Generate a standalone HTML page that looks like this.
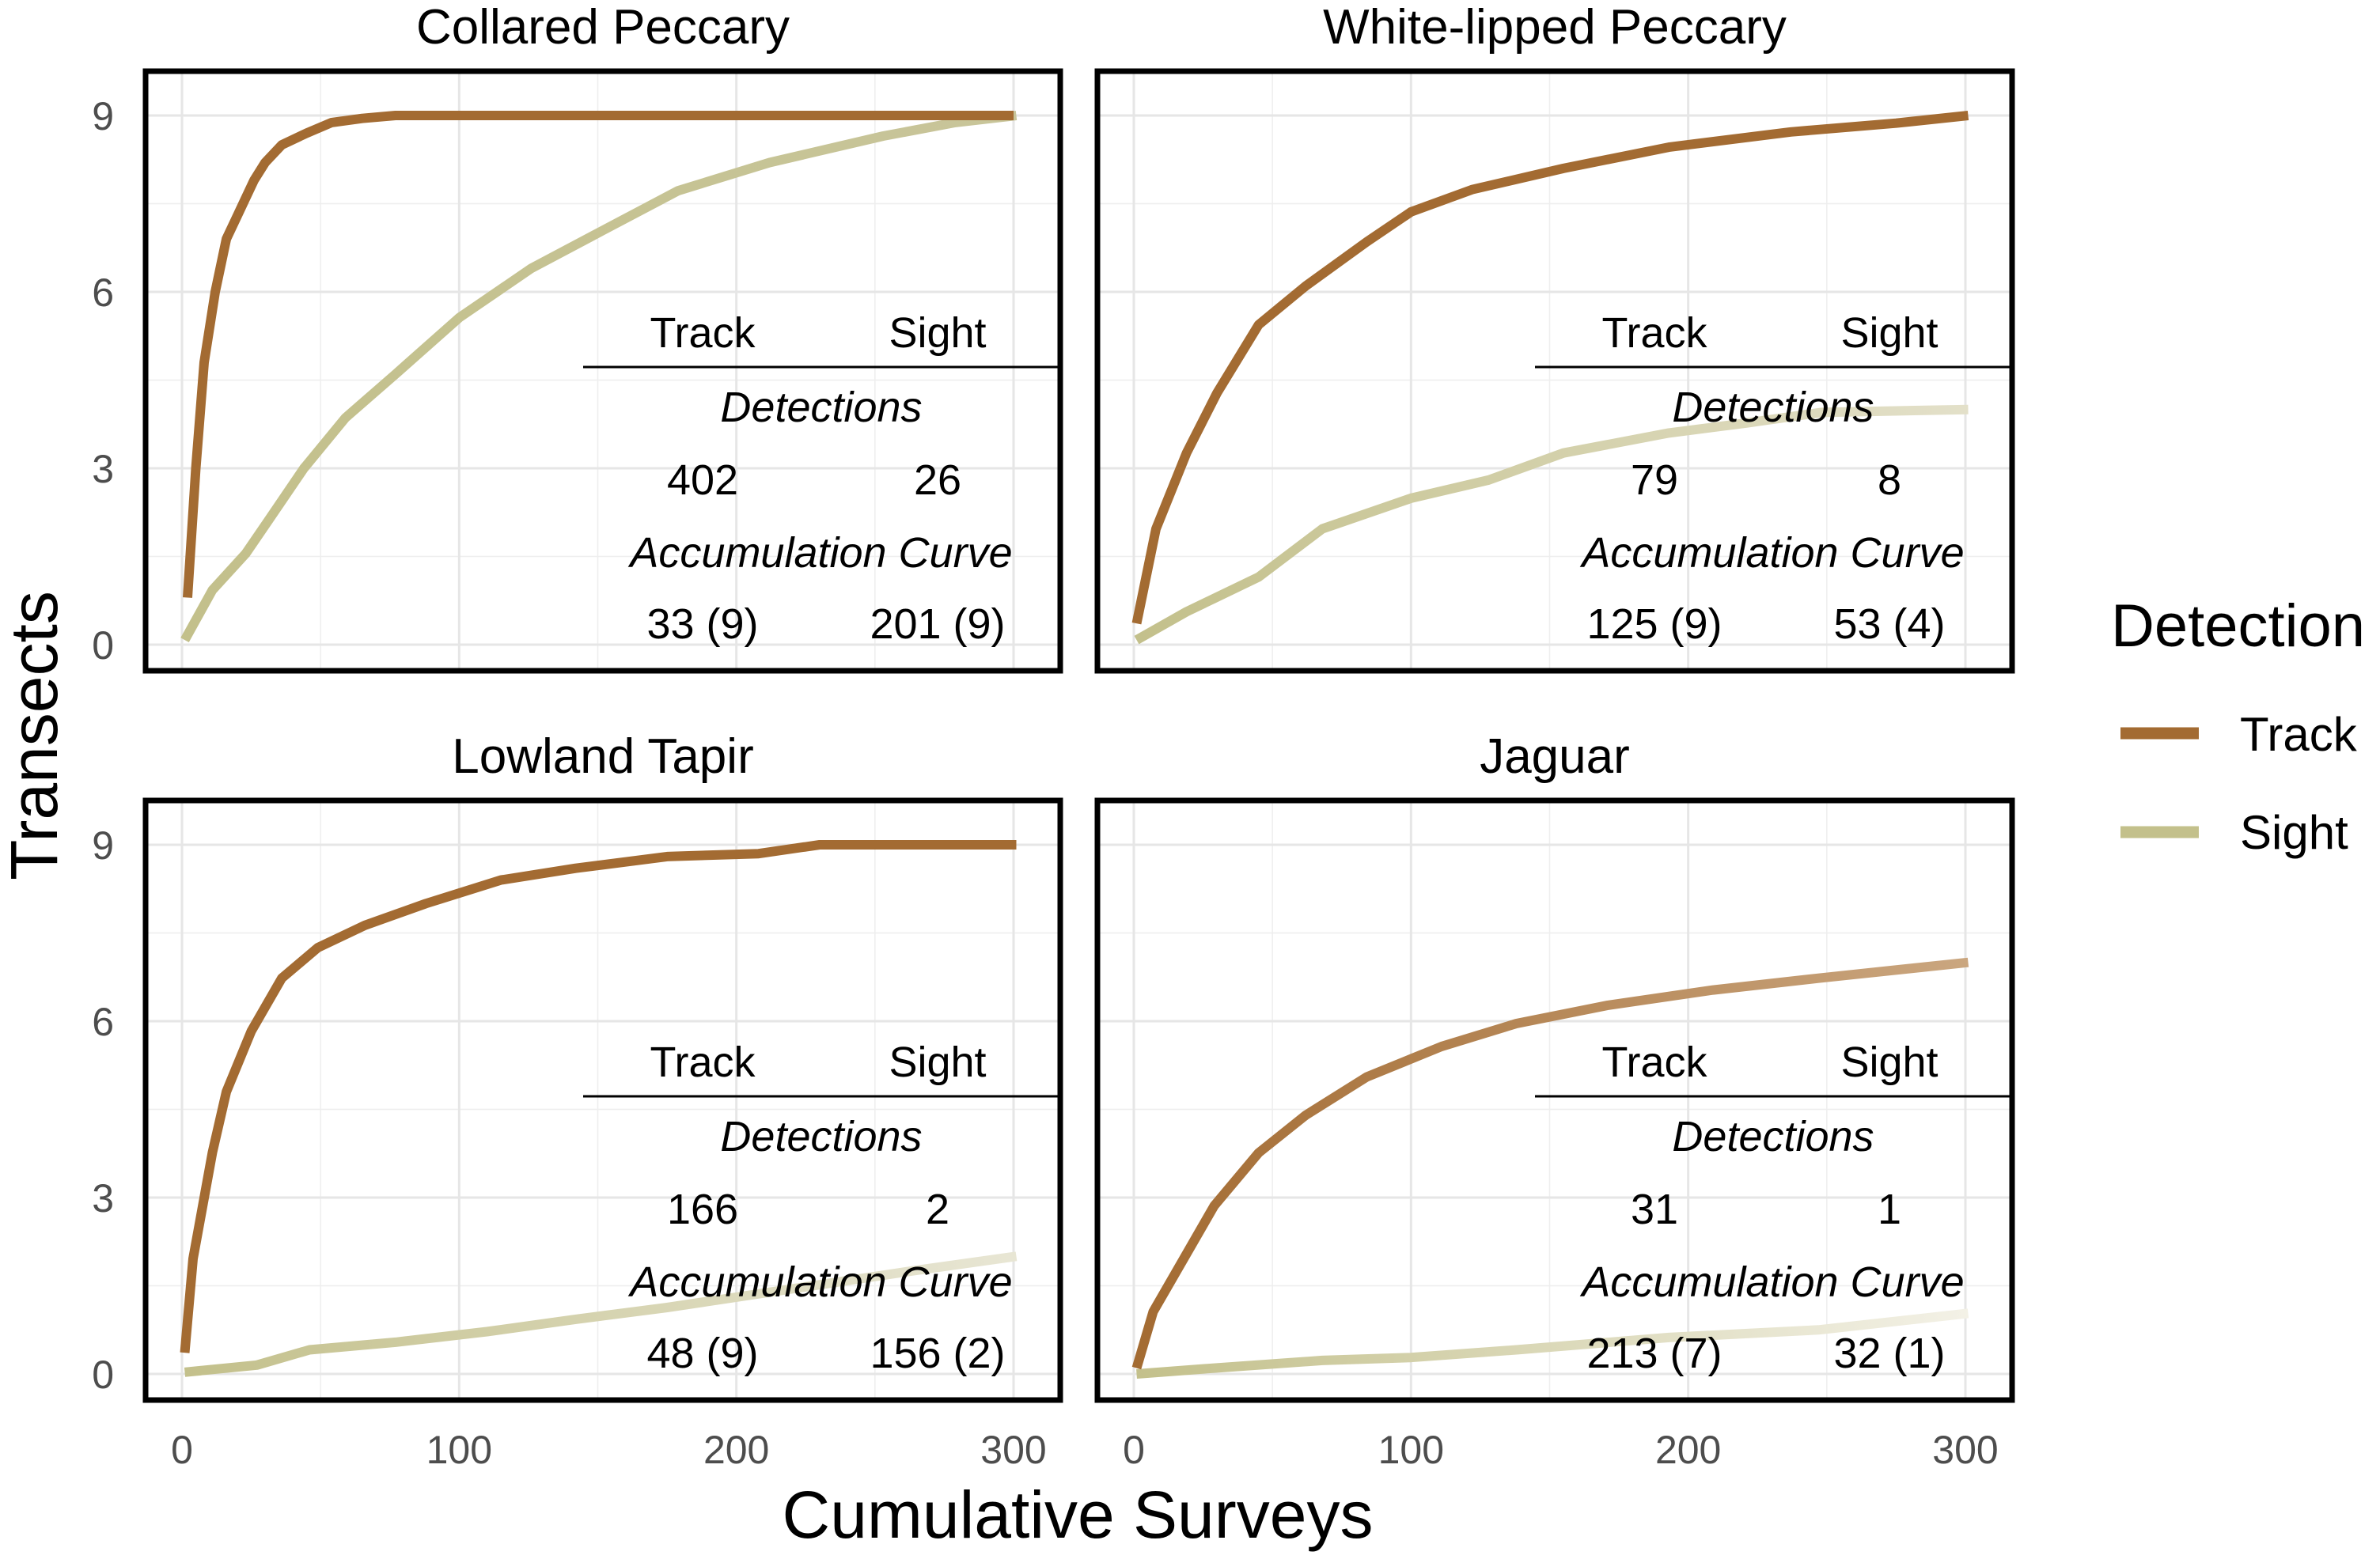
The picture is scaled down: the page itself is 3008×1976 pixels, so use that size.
<!DOCTYPE html>
<html><head><meta charset="utf-8"><style>
html,body{margin:0;padding:0;background:#fff;}
svg{display:block;font-family:"Liberation Sans",Arial,sans-serif;}
</style></head><body>
<svg id="chart" width="3008" height="1976" viewBox="0 0 3008 1976" xmlns="http://www.w3.org/2000/svg">
<defs id="defs"></defs>
<g id="root"></g>
</svg>
<script>
const NS='http://www.w3.org/2000/svg';
// data
const panelTitles=['Collared Peccary','White-lipped Peccary','Lowland Tapir','Jaguar'];
const xTicks=[0,100,200,300];
const yTicks=[0,3,6,9];
const trackX1=[2,5,8,12,16,20,26,30,36,45,54,65,77,300];
const trackY1=[0.8,3,4.8,6,6.9,7.3,7.9,8.2,8.5,8.7,8.88,8.95,9,9];
const sightX1=[1,11,23,31,44,59,77,100,126,148,179,212,253,279,301];
const sightY1=[0.08,0.93,1.55,2.1,3.0,3.86,4.6,5.56,6.4,6.95,7.72,8.2,8.65,8.88,9];
const trackX2=[1,8,19,30,45,62,84,100,122,155,193,237,275,301];
const trackY2=[0.36,1.97,3.26,4.28,5.44,6.1,6.85,7.36,7.74,8.1,8.46,8.72,8.87,9];
const sightX2=[1,19,45,68,100,128,155,193,221,248,301];
const sightY2=[0.08,0.56,1.15,1.97,2.49,2.8,3.26,3.6,3.77,3.95,4.0];
const trackX3=[1,4,11,16,25,36,49,66,88,115,142,175,208,230,301];
const trackY3=[0.36,1.96,3.77,4.8,5.83,6.73,7.25,7.63,8.0,8.4,8.6,8.8,8.85,9,9];
const sightX3=[1,27,46,77,110,142,175,219,263,301];
const sightY3=[0.03,0.15,0.41,0.54,0.72,0.93,1.13,1.44,1.75,2.0];
const trackX4=[1,7,18,29,45,62,84,111,138,171,209,247,301];
const trackY4=[0.1,1.06,1.96,2.86,3.76,4.4,5.05,5.57,5.96,6.27,6.53,6.73,7.0];
const sightX4=[1,29,68,100,138,193,247,301];
const sightY4=[0,0.1,0.23,0.28,0.41,0.62,0.75,1.03];
const detTrack=['402','79','166','31'];
const detSight=['26','8','2','1'];
const accTrack=['33 (9)','125 (9)','48 (9)','213 (7)'];
const accSight=['201 (9)','53 (4)','156 (2)','32 (1)'];

const trackXs=[trackX1,trackX2,trackX3,trackX4], trackYs=[trackY1,trackY2,trackY3,trackY4];
const sightXs=[sightX1,sightX2,sightX3,sightX4], sightYs=[sightY1,sightY2,sightY3,sightY4];
// styles / layout
const panelLeft=[184,1387,184,1387], panelTop=[90,90,1012,1012];
const BW=1156,BH=758;
const trackGrad=[['#a36b32','#a36b32'],['#a36b32','#a36b32'],['#a36b32','#a36b32'],['#a36b32','#caa67f']];
const sightGrad=[['#c3c08b','#c8c59a'],['#c3c08b','#e3e0c9'],['#c3c08b','#e8e6d4'],['#c3c08b','#f3f1e6']];

const root=document.getElementById('root');
const defs=document.getElementById('defs');
function mk(tag,attrs,parent){const e=document.createElementNS(NS,tag);for(const k in attrs)e.setAttribute(k,attrs[k]);(parent||root).appendChild(e);return e;}
function txt(s,attrs,parent){const e=mk('text',attrs,parent);e.textContent=s;return e;}

for(let p=0;p<4;p++){
  const L=panelLeft[p],T=panelTop[p];
  const g=mk('g',{});
  
  
  const sx=v=>L+46+v*(1051/300);
  const sy=v=>T+725-v*(669/9);
  [50,150,250].forEach(v=>{const l=mk('line',{x1:sx(v),x2:sx(v),y1:T,y2:T+BH,stroke:'#eeeeee','stroke-width':1.5},g);});
  [1.5,4.5,7.5].forEach(v=>{const l=mk('line',{x1:L,x2:L+BW,y1:sy(v),y2:sy(v),stroke:'#eeeeee','stroke-width':1.5},g);});
  xTicks.forEach(v=>{const l=mk('line',{x1:sx(v),x2:sx(v),y1:T,y2:T+BH,stroke:'#e6e6e6','stroke-width':3},g);});
  yTicks.forEach(v=>{const l=mk('line',{x1:L,x2:L+BW,y1:sy(v),y2:sy(v),stroke:'#e6e6e6','stroke-width':3},g);});
  const series=[[trackXs[p],trackYs[p],trackGrad[p],'track'],[sightXs[p],sightYs[p],sightGrad[p],'sight']];
  series.slice().reverse().forEach(([xs,ys,gc,nm])=>{
    const id='g'+p+nm;
    const lg=mk('linearGradient',{id:id,gradientUnits:'userSpaceOnUse',x1:sx(0),x2:sx(300),y1:0,y2:0},defs);
    mk('stop',{offset:'0',"stop-color":gc[0]},lg);mk('stop',{offset:'1',"stop-color":gc[1]},lg);
    const d=xs.map((x,i)=>(i?'L':'M')+sx(x).toFixed(1)+' '+sy(ys[i]).toFixed(1)).join(' ');
    const path=mk('path',{d:d,fill:'none',stroke:'url(#'+id+')','stroke-width':12,'stroke-linejoin':'round'},g);
    
    
  });
  const b=mk('rect',{x:L,y:T,width:BW,height:BH,fill:'none',stroke:'#000','stroke-width':7},g);
  
  
  const t=txt(panelTitles[p],{x:L+BW/2,y:T-35,'text-anchor':'middle','font-size':62,fill:'#000'},g);
  
  
  if(p%2===0){yTicks.forEach(v=>{const e=txt(String(v),{x:144,y:sy(v)+18,'text-anchor':'end','font-size':50,fill:'#4d4d4d'},g);});}
  if(p>=2){xTicks.forEach(v=>{const e=txt(String(v),{x:sx(v),y:1850,'text-anchor':'middle','font-size':50,fill:'#4d4d4d'},g);});}
  const tg=mk('g',{},g);
  
  
  const cT=L+704,cS=L+1001,cM=L+854;
  txt('Track',{x:cT,y:T+349,'text-anchor':'middle','font-size':54},tg);
  txt('Sight',{x:cS,y:T+349,'text-anchor':'middle','font-size':54},tg);
  mk('line',{x1:L+553,x2:L+BW,y1:T+374,y2:T+374,stroke:'#000','stroke-width':3},tg);
  txt('Detections',{x:cM,y:T+443,'text-anchor':'middle','font-size':54,'font-style':'italic'},tg);
  txt(detTrack[p],{x:cT,y:T+535,'text-anchor':'middle','font-size':54},tg);
  txt(detSight[p],{x:cS,y:T+535,'text-anchor':'middle','font-size':54},tg);
  txt('Accumulation Curve',{x:cM,y:T+627,'text-anchor':'middle','font-size':54,'font-style':'italic'},tg);
  txt(accTrack[p],{x:cT,y:T+717,'text-anchor':'middle','font-size':54},tg);
  txt(accSight[p],{x:cS,y:T+717,'text-anchor':'middle','font-size':54},tg);
}
const xt=txt('Cumulative Surveys',{x:1362,y:1944,'text-anchor':'middle','font-size':84});


const yt=txt('Transects',{x:0,y:0,'text-anchor':'middle','font-size':84,transform:'translate(72,930) rotate(-90)'});


const lgd=mk('g',{});


txt('Detection',{x:2668,y:817,'font-size':76},lgd);
const k1=mk('line',{x1:2680,x2:2779,y1:927,y2:927,stroke:'#a36b32','stroke-width':15},lgd);


const k2=mk('line',{x1:2680,x2:2779,y1:1052,y2:1052,stroke:'#c3c08b','stroke-width':15},lgd);


txt('Track',{x:2831,y:949,'font-size':60},lgd);
txt('Sight',{x:2831,y:1073,'font-size':60},lgd);
</script>
</body></html>
